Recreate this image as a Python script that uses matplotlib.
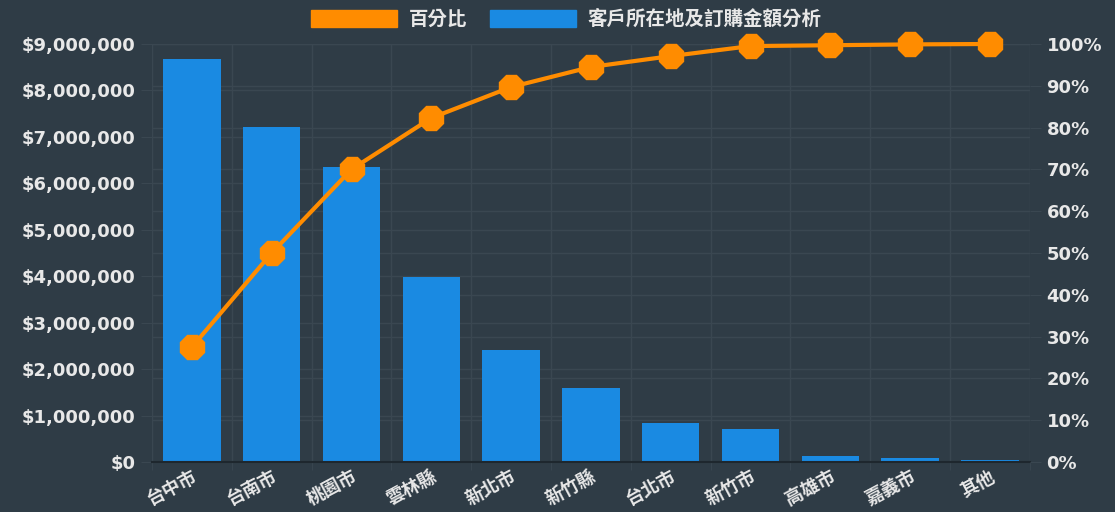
import matplotlib.pyplot as plt
import matplotlib.patches as mpatches
from matplotlib.ticker import FuncFormatter, MultipleLocator
import numpy as np

plt.rcParams['font.family'] = ['DejaVu Sans', 'Noto Sans CJK TC']

regions = ['台中市', '台南市', '桃園市', '雲林縣', '新北市', '新竹縣',
           '台北市', '新竹市', '高雄市', '嘉義市', '其他']
amounts = [8680000, 7220000, 6360000, 3990000, 2410000, 1590000,
           840000, 710000, 130000, 75000, 40000]
percent = [27.5, 50.0, 70.0, 82.3, 89.7, 94.5, 97.1, 99.5, 99.7, 99.9, 100.0]

bg = '#2f3c46'
grid = '#3a4751'
txt = '#e8e8e8'
bar_c = '#1a8ae2'
line_c = '#ff8c00'
ymax = 9000000

fig = plt.figure(figsize=(11.15, 5.12), dpi=100, facecolor=bg)
ax = fig.add_axes([0.1363, 0.0977, 0.7874, 0.8164])
ax.set_facecolor(bg)
x = np.arange(len(regions))

# right-axis grid drawn on the left axes so it stays behind the bars
for p in range(0, 101, 10):
    ax.axhline(p / 100 * ymax, color=grid, linewidth=1, zorder=0)

ax.bar(x, amounts, width=0.72, color=bar_c, zorder=2)
ax.set_xlim(-0.5, len(regions) - 0.5)
ax.set_ylim(0, ymax)
ax.yaxis.set_major_locator(MultipleLocator(1000000))
ax.yaxis.set_major_formatter(FuncFormatter(lambda v, p: f'${int(v):,}'))
ax.set_xticks(x)
ax.set_xticklabels(regions, rotation=28, ha='right', rotation_mode='anchor',
                   fontsize=13, fontweight='bold', color=txt)
ax.set_xticks(np.arange(len(regions) + 1) - 0.5, minor=True)
ax.tick_params(axis='x', which='major', length=0, pad=4)
ax.tick_params(axis='x', which='minor', length=6, color=grid)
ax.tick_params(axis='y', length=8, color=grid, labelsize=13, labelcolor=txt, pad=4)
for lb in ax.get_yticklabels():
    lb.set_fontweight('bold')
ax.grid(axis='y', color=grid, linewidth=1, zorder=0)
ax.grid(axis='x', which='minor', color=grid, linewidth=1, zorder=0)
for s in ['top', 'right']:
    ax.spines[s].set_visible(False)
ax.spines['left'].set_color(grid)
ax.spines['bottom'].set_color('#1e272e')
ax.spines['bottom'].set_linewidth(1.5)

ax2 = ax.twinx()
ax2.plot(x, percent, color=line_c, linewidth=3, marker='8', markersize=19,
         markerfacecolor=line_c, markeredgecolor=line_c, zorder=3, clip_on=False)
ax2.set_ylim(0, 100)
ax2.yaxis.set_major_locator(MultipleLocator(10))
ax2.yaxis.set_major_formatter(FuncFormatter(lambda v, p: f'{int(v)}%'))
ax2.tick_params(axis='y', length=8, color=grid, labelsize=13, labelcolor=txt, pad=4)
for lb in ax2.get_yticklabels():
    lb.set_fontweight('bold')
for s in ['top', 'left', 'right', 'bottom']:
    ax2.spines[s].set_visible(False)

handles = [mpatches.Patch(color=line_c, label='百分比'),
           mpatches.Patch(color=bar_c, label='客戶所在地及訂購金額分析')]
fig.legend(handles=handles, loc='upper center', bbox_to_anchor=(0.508, 1.015), ncol=2,
           frameon=False, prop={'size': 14, 'weight': 'bold'}, labelcolor=txt,
           handlelength=4.4, handleheight=1.0, columnspacing=1.2, handletextpad=0.6)

fig.savefig('out.png', dpi=100, facecolor=bg)
